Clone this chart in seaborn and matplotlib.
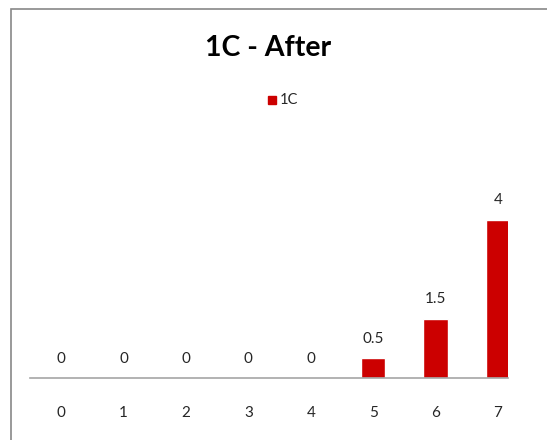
import matplotlib
matplotlib.use("Agg")
import matplotlib.pyplot as plt
import seaborn as sns
import pandas as pd
from matplotlib.patches import Rectangle

categories = ["0", "1", "2", "3", "4", "5", "6", "7"]
values = [0, 0, 0, 0, 0, 0.5, 1.5, 4]
value_labels = ["0", "0", "0", "0", "0", "0.5", "1.5", "4"]
series_name = "1C"
title = "1C - After"

sns.set_theme(style="white")
plt.rcParams['font.family'] = ['Lato', 'DejaVu Sans']

W, H = 547, 440
fig = plt.figure(figsize=(W / 100, H / 100), dpi=100)
ax = fig.add_axes([30 / W, (H - 378) / H, (508 - 30) / W, (378 - 120) / H])

df = pd.DataFrame({"cat": categories, "val": values, "series": series_name})
sns.barplot(data=df, x="cat", y="val", hue="series", palette=["#cc0000"],
            width=0.39, ax=ax, legend=False, saturation=1)

ax.set_xlim(-0.5, 7.16)
ax.set_ylim(0, 6.53)
for s in ["top", "right", "left"]:
    ax.spines[s].set_visible(False)
ax.spines["bottom"].set_color("#a6a6a6")
ax.spines["bottom"].set_linewidth(1.2)
ax.set_yticks([])
ax.set_xlabel("")
ax.set_ylabel("")
ax.tick_params(axis="x", length=0, pad=20, labelsize=11, labelcolor="#262626")

for i, (v, lab) in enumerate(zip(values, value_labels)):
    ax.annotate(lab, (i, v), xytext=(0, 9), textcoords="offset points",
                ha="center", va="bottom", fontsize=11, color="#262626")

fig.text(268 / W, 1 - 48 / H, title, ha="center", va="center",
         fontsize=20.5, fontweight="bold", color="black")

# legend
fig.patches.append(Rectangle((268 / W, 1 - 104 / H), 8 / W, 8 / H,
                             transform=fig.transFigure, color="#cc0000", figure=fig))
fig.text(280 / W, 1 - 100 / H, series_name, ha="left", va="center",
         fontsize=10.5, color="#262626")

# chart border
fig.patches.append(Rectangle((11 / W, -0.1), 1.2, 1 - 9 / H + 0.1,
                             transform=fig.transFigure, fill=False,
                             edgecolor="#888888", linewidth=1.2, figure=fig))

fig.savefig("out.png", dpi=100)
